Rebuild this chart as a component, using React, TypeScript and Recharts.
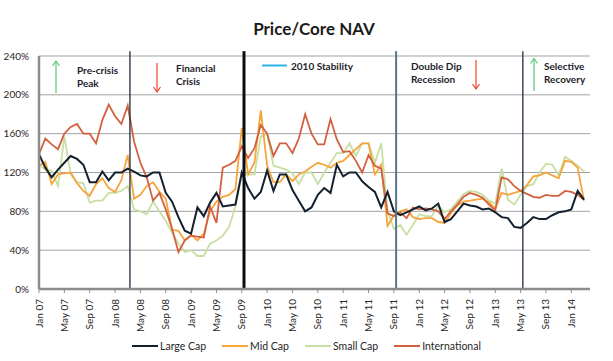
import React from "react";
import { CartesianGrid, Legend, Line, LineChart, ReferenceLine, XAxis, YAxis } from "recharts";

const monthNames = ["Jan", "Feb", "Mar", "Apr", "May", "Jun", "Jul", "Aug", "Sep", "Oct", "Nov", "Dec"];
const years = ["07", "08", "09", "10", "11", "12", "13", "14"];
const months = years.flatMap((yr) => monthNames.map((m) => `${m} ${yr}`)).slice(0, 87); // Jan 07 .. Mar 14

const largeCap = [
  139, 125, 115, 123, 130, 137, 134, 128, 110, 110, 121, 112, 120, 120, 124, 121, 117, 116, 120, 120,
  99, 90, 74, 60, 57, 84, 75, 89, 99, 85, 86, 87, 120, 104, 93, 100, 122, 101, 118, 118,
  102, 91, 80, 84, 97, 104, 99, 128, 116, 120, 120, 111, 105, 100, 84, 100, 80, 76, 79, 82,
  85, 81, 83, 88, 69, 72, 80, 88, 86, 85, 82, 83, 79, 74, 73, 64, 63, 68, 74, 72,
  72, 76, 79, 80, 82, 101, 92,
];
const midCap = [
  127, 131, 108, 118, 119, 120, 109, 101, 96, 108, 114, 104, 100, 112, 138, 93, 97, 106, 110, 100,
  93, 61, 60, 50, 56, 50, 57, 80, 90, 95, 97, 103, 166, 118, 130, 184, 127, 110, 110, 118,
  111, 118, 121, 126, 130, 128, 125, 130, 132, 138, 144, 150, 150, 118, 128, 65, 76, 80, 82, 74,
  72, 73, 73, 69, 68, 78, 86, 90, 91, 92, 93, 89, 83, 99, 97, 99, 101, 107, 116, 117,
  120, 117, 114, 132, 131, 125, 91,
];
const smallCap = [
  128, 123, 122, 106, 157, 118, 110, 109, 89, 91, 91, 99, 99, 101, 106, 82, 80, 77, 90, 80,
  70, 58, 47, 38, 40, 34, 34, 47, 50, 55, 64, 85, 118, 118, 118, 157, 160, 127, 125, 123,
  119, 108, 120, 120, 108, 120, 130, 140, 140, 150, 137, 150, 150, 130, 150, 80, 62, 66, 56, 66,
  77, 75, 75, 86, 79, 82, 90, 98, 101, 100, 97, 91, 88, 124, 92, 87, 97, 106, 108, 120,
  129, 128, 117, 136, 132, 127, 121,
];
const international = [
  139, 155, 149, 144, 160, 167, 170, 160, 160, 150, 174, 190, 178, 170, 189, 152, 130, 115, 91, 99,
  82, 62, 38, 50, 55, 54, 53, 85, 68, 125, 128, 132, 147, 135, 145, 169, 160, 137, 150, 150,
  140, 155, 180, 160, 149, 149, 175, 154, 141, 142, 132, 120, 138, 127, 124, 78, 75, 79, 73, 84,
  82, 83, 82, 80, 72, 80, 87, 95, 99, 97, 94, 87, 81, 115, 113, 106, 101, 98, 95, 94,
  97, 96, 96, 101, 100, 97, 92,
];

const yTicks = [0, 40, 80, 120, 160, 200, 240];

// event markers, in month index units (they sit a little after the month start)
const eventPos = [14.35, 32.35, 56.35, 76.35];
const eventStyle = [
  { stroke: "#1c2b3a", width: 1.3 },
  { stroke: "#0a0d12", width: 3 },
  { stroke: "#56768c", width: 2 },
  { stroke: "#1c2f44", width: 1.3 },
];

const series = [
  { key: "small", name: "Small Cap", color: "#c8dfa3", width: 1.8 },
  { key: "mid", name: "Mid Cap", color: "#f6a43c", width: 1.8 },
  { key: "intl", name: "International", color: "#d2613f", width: 1.8 },
  { key: "large", name: "Large Cap", color: "#13202e", width: 2 },
];
const legendOrder = ["large", "mid", "small", "intl"];

const data = months.map((month, i) => ({
  month,
  large: largeCap[i],
  mid: midCap[i],
  small: smallCap[i],
  intl: international[i],
}));

const FONT = "Lato, 'Open Sans', sans-serif";

const MonthTick = ({ x, y, payload }: any) => (
  <g transform={`translate(${x},${y})`}>
    <text transform="rotate(-90)" x={-2} y={0} dy={3.5} textAnchor="end" fontSize={10} fill="#262626">
      {payload.value}
    </text>
  </g>
);

const LegendRow = () => (
  <div style={{ display: "flex", justifyContent: "center", alignItems: "center", gap: 16, fontSize: 10.5, color: "#262626" }}>
    {legendOrder.map((k) => {
      const s = series.find((e) => e.key === k)!;
      return (
        <div key={k} style={{ display: "flex", alignItems: "center" }}>
          <svg width={26} height={6}>
            <line x1={0} x2={26} y1={3} y2={3} stroke={s.color} strokeWidth={2} />
          </svg>
          <span style={{ marginLeft: 2 }}>{s.name}</span>
        </div>
      );
    })}
  </div>
);

function Arrow({ x, y1, y2, color }: { x: number; y1: number; y2: number; color: string }) {
  // y2 is the tip
  const d = y2 < y1 ? 5 : -5;
  return (
    <g stroke={color} strokeWidth={1.2} fill="none">
      <line x1={x} x2={x} y1={y1} y2={y2} />
      <polyline points={`${x - 3.5},${y2 + d} ${x},${y2} ${x + 3.5},${y2 + d}`} />
    </g>
  );
}

const Notes = () => (
  <svg width={613} height={361} style={{ position: "absolute", left: 0, top: 0, pointerEvents: "none" }}>
    <text x={314} y={35} textAnchor="middle" fontSize={17} fontWeight={700} fill="#1b1b1b" fontFamily={FONT}>
      Price/Core NAV
    </text>
    <g fontSize={10} fontWeight={700} fill="#1d1d2b" fontFamily={FONT}>
      <text x={77} y={74}>Pre-crisis</text>
      <text x={77} y={87}>Peak</text>
      <text x={176} y={72}>Financial</text>
      <text x={176} y={84.5}>Crisis</text>
      <text x={291} y={70}>2010 Stability</text>
      <text x={411} y={70}>Double Dip</text>
      <text x={411} y={83}>Recession</text>
      <text x={544} y={70}>Selective</text>
      <text x={544} y={83}>Recovery</text>
    </g>
    <line x1={262} x2={287} y1={65.5} y2={65.5} stroke="#2bb2e8" strokeWidth={2} />
    <Arrow x={56} y1={93} y2={61} color="#58c878" />
    <Arrow x={157} y1={63} y2={92} color="#f0432b" />
    <Arrow x={476} y1={60} y2={89} color="#f0432b" />
    <Arrow x={534} y1={91} y2={58.5} color="#58c878" />
  </svg>
);

export default function App() {
  return (
    <div style={{ position: "absolute", left: 0, top: 0, width: 613, height: 361, background: "#fff", fontFamily: FONT }}>
      <LineChart width={613} height={361} data={data} margin={{ top: 56, right: 23, bottom: 32, left: 4 }}>
        <CartesianGrid vertical={false} stroke="#a3a3a3" strokeWidth={1} />
        <XAxis
          dataKey="month"
          interval={3}
          height={40}
          padding={{ left: 0, right: 6 }}
          tick={<MonthTick />}
          tickSize={4}
          tickMargin={4}
          tickLine={{ stroke: "#8c8c8c" }}
          axisLine={{ stroke: "#8c8c8c", strokeWidth: 2.5 }}
        />
        <XAxis xAxisId="pos" type="number" domain={[0, 86]} padding={{ left: 0, right: 6 }} allowDataOverflow hide />
        <YAxis
          domain={[0, 240]}
          ticks={yTicks}
          width={35}
          tickFormatter={(v) => `${v}%`}
          tick={{ fontSize: 10, fill: "#262626" }}
          tickSize={0}
          tickMargin={10}
          axisLine={{ stroke: "#8c8c8c", strokeWidth: 2.5 }}
        />
        {series.map((s) => (
          <Line
            key={s.key}
            dataKey={s.key}
            name={s.name}
            stroke={s.color}
            strokeWidth={s.width}
            dot={false}
            activeDot={false}
            isAnimationActive={false}
          />
        ))}
        {eventPos.map((p, i) => (
          <ReferenceLine
            key={i}
            xAxisId="pos"
            ifOverflow="visible"
            segment={[{ x: p, y: 245 }, { x: p, y: 0 }]}
            stroke={eventStyle[i].stroke}
            strokeWidth={eventStyle[i].width}
          />
        ))}
        <Legend
          layout="horizontal"
          verticalAlign="middle"
          align="center"
          wrapperStyle={{ top: 340, left: 0, width: 613 }}
          content={() => <LegendRow />}
        />
      </LineChart>
      <Notes />
    </div>
  );
}
